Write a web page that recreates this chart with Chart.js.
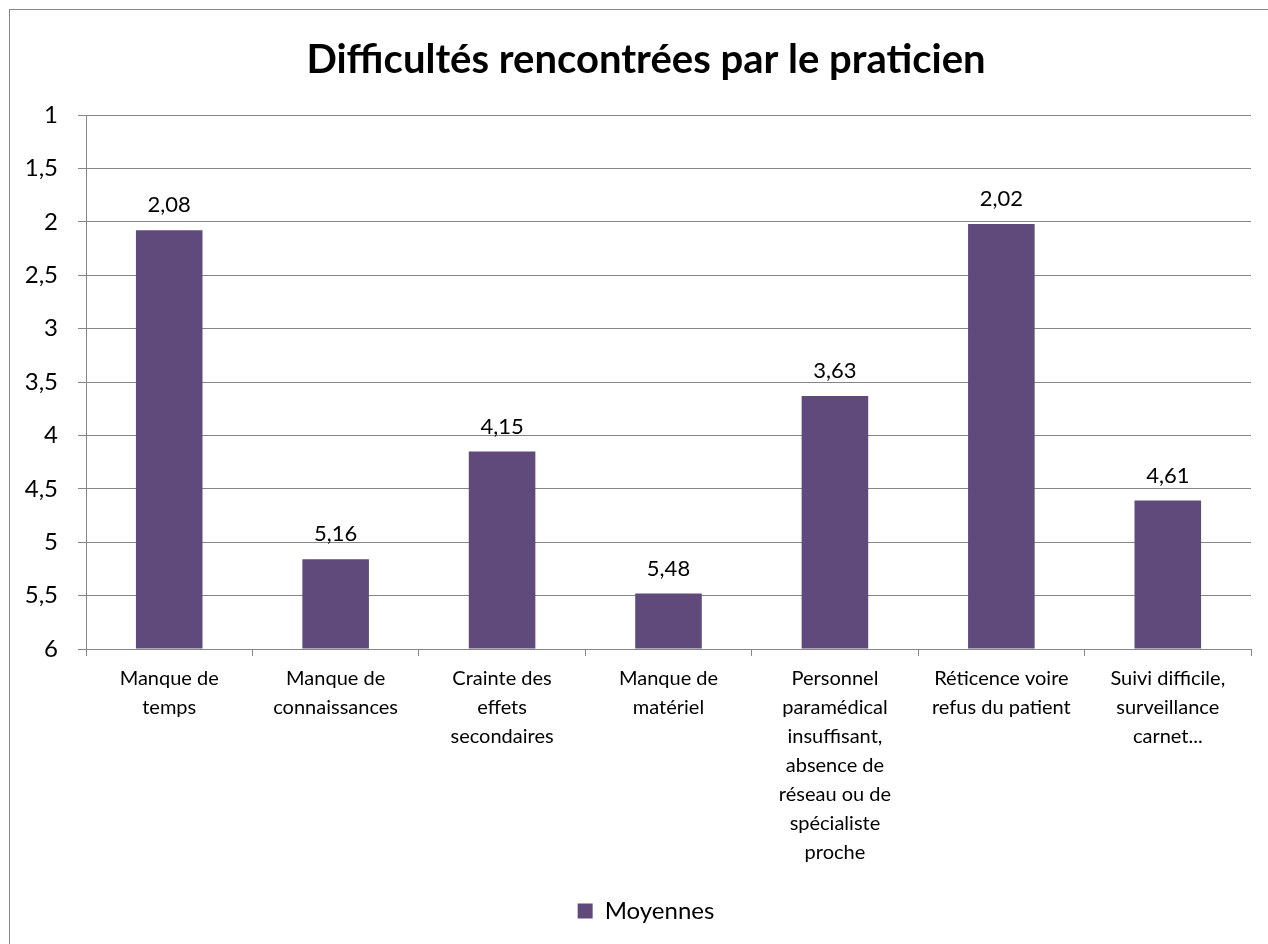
<!DOCTYPE html>
<html>
<head>
<meta charset="utf-8">
<script src="https://cdn.jsdelivr.net/npm/chart.js@4/dist/chart.umd.min.js"></script>
<style>
  html, body { margin: 0; padding: 0; background: #fff; overflow: hidden; width: 1268px; height: 944px; }
  #wrap { position: relative; width: 1268px; height: 944px; overflow: hidden; }
  #frame { position: absolute; left: 9px; top: 9px; width: 1270px; height: 950px; border: 1px solid #868686; box-sizing: border-box; pointer-events: none; }
  canvas { position: absolute; left: 0; top: 0; }
</style>
</head>
<body>
<div id="wrap">
  <canvas id="c" width="1292" height="944"></canvas>
  <div id="frame"></div>
</div>
<script>
const chartTitle = "Difficultés rencontrées par le praticien";
const seriesName = "Moyennes";
const categories = [
  ["Manque de", "temps"],
  ["Manque de", "connaissances"],
  ["Crainte des", "effets", "secondaires"],
  ["Manque de", "matériel"],
  ["Personnel", "paramédical", "insuffisant,", "absence de", "réseau ou de", "spécialiste", "proche"],
  ["Réticence voire", "refus du patient"],
  ["Suivi difficile,", "surveillance", "carnet..."]
];
const moyennes = [2.08, 5.16, 4.15, 5.48, 3.63, 2.02, 4.61];
const yMin = 1;
const yMax = 6;
const yStep = 0.5;

const FONT = "Lato, 'Open Sans', sans-serif";
const GRID = "#868686";
const BAR = "#5F4A7B";

const fmt = v => String(v).replace('.', ',');

const dataLabels = {
  id: 'dataLabels',
  afterDatasetsDraw(chart) {
    const ctx = chart.ctx;
    const meta = chart.getDatasetMeta(0);
    ctx.save();
    ctx.font = "22px " + FONT;
    ctx.fillStyle = "#000";
    ctx.textAlign = "center";
    ctx.textBaseline = "middle";
    meta.data.forEach((bar, i) => {
      ctx.fillText(fmt(moyennes[i]), bar.x, bar.y - 25);
    });
    ctx.restore();
  }
};

new Chart(document.getElementById('c'), {
  type: 'bar',
  data: {
    labels: categories,
    datasets: [{
      label: seriesName,
      data: moyennes,
      base: yMax,
      backgroundColor: BAR,
      borderWidth: 0,
      barPercentage: 0.4,
      categoryPercentage: 1.0
    }]
  },
  options: {
    responsive: false,
    animation: false,
    layout: { padding: { left: 0, right: 0, top: 0, bottom: 11 } },
    plugins: {
      title: {
        display: true,
        text: chartTitle,
        color: "#000",
        font: { family: FONT, size: 40, weight: 'bold', lineHeight: 1.2 },
        padding: { top: 36, bottom: 31 }
      },
      legend: {
        display: true,
        position: 'bottom',
        labels: {
          color: "#000",
          font: { family: FONT, size: 24 },
          boxWidth: 15,
          boxHeight: 15,
          padding: 10
        }
      },
      tooltip: { enabled: false }
    },
    scales: {
      x: {
        grid: { drawOnChartArea: false, drawTicks: true, tickLength: 7, color: GRID, offset: true },
        border: { display: true, color: GRID },
        ticks: {
          color: "#000",
          font: { family: FONT, size: 20, lineHeight: 1.45 },
          padding: 8,
          maxRotation: 0,
          autoSkip: false
        },
        afterFit(s) { s.height = 240; }
      },
      y: {
        reverse: true,
        min: yMin,
        max: yMax,
        grid: { color: GRID, tickLength: 8 },
        border: { display: true, color: GRID },
        ticks: {
          stepSize: yStep,
          color: "#000",
          font: { family: FONT, size: 24 },
          padding: 20,
          callback: v => fmt(v)
        },
        afterFit(s) { s.width = 86; }
      },
      ySpacer: {
        position: 'right',
        display: true,
        grid: { display: false, drawTicks: false },
        border: { display: false },
        ticks: { display: false },
        afterFit(s) { s.width = 41; }
      }
    }
  },
  plugins: [dataLabels]
});
</script>
</body>
</html>
